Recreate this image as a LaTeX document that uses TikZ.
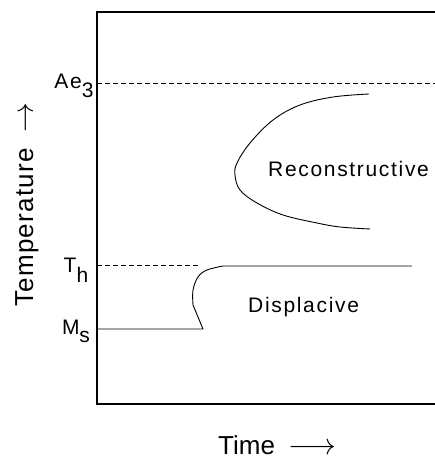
\documentclass[tikz,border=0pt]{standalone}
\usepackage{fontspec}
\setmainfont{Liberation Sans}
\newfontfamily\lblfont[LetterSpace=8]{Liberation Sans}
\newfontfamily\tempfont[LetterSpace=5]{Liberation Sans}
\usetikzlibrary{positioning}

\begin{document}
\begin{tikzpicture}[x=1pt,y=1pt,
    curve/.style={line width=0.9pt},
    axis/.style={line width=1.4pt},
    guide/.style={line width=0.9pt, dash pattern=on 5pt off 3pt},
    lbl/.style={font=\lblfont\fontsize{21}{23}\selectfont, inner sep=0pt, anchor=base},
    axlbl/.style={font=\fontsize{26}{28}\selectfont, inner sep=0pt, anchor=base west}]
    \useasboundingbox (0,0) rectangle (435,461);

    % Axes (open on the right)
    \draw[axis] (435,449) -- (97,449) -- (97,57) -- (435,57);

    % Dashed temperature levels
    \draw[guide] (97,378) -- (435,378);
    \draw[guide] (97,196) -- (200,196);

    % Reconstructive C-curve
    \draw[curve] plot[smooth, tension=0.6] coordinates {
        (369,367) (333,364) (300,356) (273,341) (250,318) (237,298)
        (235,286) (240,271) (257,258) (283,246) (317,238) (340,234) (370,232)};

    % Displacive boundary
    \draw[curve] (97,132) -- (203,132) -- (193,156)
        plot[smooth, tension=0.6] coordinates {(193,156) (193,171) (198,184) (207,191) (223,195)}
        -- (412,195);

    % Level labels
    \node[lbl] (ae) at (74,372) {Ae\raisebox{-0.8ex}{3}};
    \node[lbl] (th) at (76,188) {T\raisebox{-0.9ex}{h}};
    \node[lbl] (ms) at (76,126) {M\raisebox{-0.7ex}{s}};

    % Region labels
    \node[lbl, anchor=base west] (recon) at (268,284) {Reconstructive};
    \node[lbl, anchor=base west] (displ) at (248,148) {Displacive};

    % Axis labels
    \node[axlbl] (time) at (218,6) {Time\hspace{13pt}\scalebox{1.2}{$\longrightarrow$}};
    \node[axlbl, rotate=90, font=\tempfont\fontsize{26}{28}\selectfont] (temp) at (33,154)
        {Temperature\hspace{15pt}\scalebox{1.2}{$\rightarrow$}};
\end{tikzpicture}
\end{document}
